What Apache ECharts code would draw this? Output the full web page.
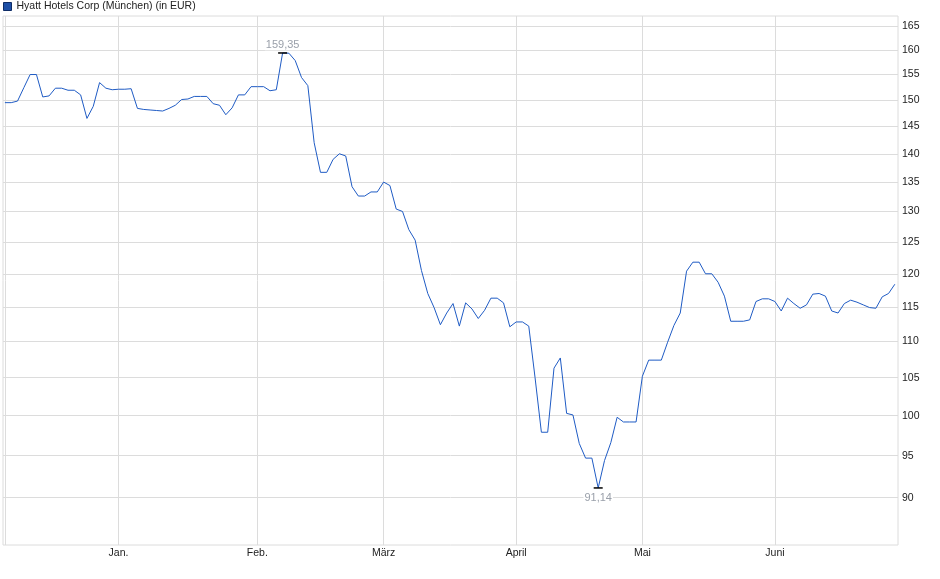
<!DOCTYPE html>
<html>
<head>
<meta charset="utf-8">
<title>Hyatt Hotels Corp (München)</title>
<script src="https://cdn.jsdelivr.net/npm/echarts@6/dist/echarts.min.js"></script>
<style>
  html, body { margin: 0; padding: 0; background: #fff; }
  #chart { width: 940px; height: 579px; }
</style>
</head>
<body>
<div id="chart"></div>
<script>
// one close per trading day, Dec 2024 .. Jun 2025
var prices = [
  149.5, 149.5, 149.8, 152.4, 155.0, 155.0, 150.6, 150.8, 152.3, 152.3,
  151.9, 151.9, 151.0, 146.5, 148.8, 153.4, 152.3, 152.0, 152.1, 152.1,
  152.2, 148.4, 148.2, 148.1, 148.0, 147.9, 148.4, 149.0, 150.1, 150.2,
  150.7, 150.7, 150.7, 149.3, 149.0, 147.2, 148.5, 151.0, 151.0, 152.6,
  152.6, 152.6, 151.8, 152.0, 159.35, 159.3, 157.8, 154.4, 152.8, 142.0,
  136.7, 136.7, 139.0, 140.0, 139.6, 134.2, 132.6, 132.6, 133.3, 133.3,
  135.0, 134.4, 130.4, 130.0, 127.0, 125.3, 120.5, 117.0, 114.9, 112.4,
  114.1, 115.5, 112.2, 115.6, 114.7, 113.3, 114.5, 116.3, 116.3, 115.6,
  112.1, 112.8, 112.8, 112.2, 105.0, 97.9, 97.9, 106.3, 107.7, 100.3,
  100.1, 96.5, 94.7, 94.7, 91.14, 94.4, 96.6, 99.8, 99.2, 99.2,
  99.2, 105.2, 107.4, 107.4, 107.4, 109.9, 112.3, 114.1, 120.4, 121.8,
  121.8, 120.0, 120.0, 118.7, 116.6, 112.9, 112.9, 112.9, 113.1, 115.8,
  116.2, 116.2, 115.8, 114.4, 116.3, 115.5, 114.8, 115.3, 116.9, 117.0,
  116.6, 114.4, 114.1, 115.5, 116.0, 115.7, 115.3, 114.9, 114.8, 116.5,
  117.0, 118.4
];

// first trading day of each month (index into prices)
var monthStarts = [18, 40, 60, 81, 101, 122];
var monthLabels = ['Jan.', 'Feb.', 'März', 'April', 'Mai', 'Juni'];
// vertical grid lines: start of the data plus each month
var xGridDays = [0, 18, 40, 60, 81, 101, 122];

var yTicks = [90, 95, 100, 105, 110, 115, 120, 125, 130, 135, 140, 145, 150, 155, 160, 165];

var seriesName = 'Hyatt Hotels Corp (München) (in EUR)';

var font = "'Liberation Sans', Arial, sans-serif";
var lineColor = '#1f5bc4';
var gridColor = '#dcdcdc';

var points = prices.map(function(v, i) { return [i, v]; });

function deNum(v) {
  return v.toFixed(2).replace('.', ',');
}

var chart = echarts.init(document.getElementById('chart'), null, { renderer: 'canvas' });

chart.setOption({
  animation: false,
  textStyle: { fontFamily: font },
  legend: {
    left: 3,
    top: 1,
    itemWidth: 8,
    itemHeight: 8,
    padding: 0,
    icon: 'rect',
    textStyle: { fontSize: 10.5, color: '#222', fontFamily: font },
    data: [{ name: seriesName, itemStyle: { color: '#1d4fa6', borderColor: '#0e2c66', borderWidth: 1 } }]
  },
  grid: {
    left: 3,
    right: 42,
    top: 16,
    bottom: 34,
    show: true,
    borderColor: gridColor,
    borderWidth: 1
  },
  xAxis: {
    type: 'value',
    min: -0.3,
    max: 141.5,
    axisLine: { show: false },
    axisTick: { show: false, customValues: xGridDays },
    axisLabel: {
      customValues: monthStarts,
      color: '#222',
      fontSize: 10.5,
      fontFamily: font,
      margin: 3,
      formatter: function(v) { return monthLabels[monthStarts.indexOf(v)]; }
    },
    splitLine: { show: true, lineStyle: { color: gridColor, width: 1 } }
  },
  yAxis: {
    type: 'log',
    position: 'right',
    min: 84.7,
    max: 167.1,
    axisLine: { show: false },
    axisTick: { show: false, customValues: yTicks },
    axisLabel: {
      customValues: yTicks,
      color: '#222',
      fontSize: 10.5,
      fontFamily: font,
      margin: 4
    },
    splitLine: { show: true, lineStyle: { color: gridColor, width: 1 } }
  },
  series: [{
    name: seriesName,
    type: 'line',
    data: points,
    showSymbol: false,
    symbol: 'none',
    lineStyle: { color: lineColor, width: 1 },
    itemStyle: { color: lineColor },
    markPoint: {
      symbol: 'rect',
      symbolSize: [9, 1.5],
      itemStyle: { color: '#000' },
      label: {
        color: '#9aa0aa',
        fontSize: 11,
        fontFamily: font,
        backgroundColor: '#fff',
        padding: [0, 1],
        formatter: function(p) { return deNum(p.value); }
      },
      data: [
        { type: 'max', valueDim: 'y', label: { position: 'top', distance: 2 } },
        { type: 'min', valueDim: 'y', label: { position: 'bottom', distance: 4 } }
      ]
    }
  }]
});
</script>
</body>
</html>
